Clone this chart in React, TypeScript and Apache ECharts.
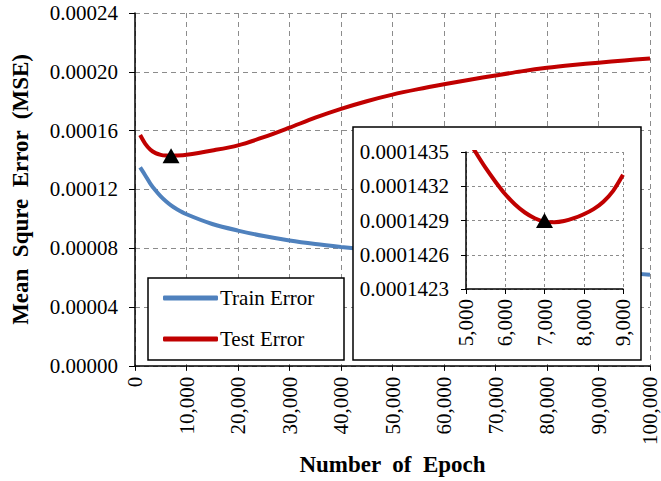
import React, { useEffect, useRef } from "react";
import * as echarts from "echarts";

const epochs = [1000, 2000, 3000, 4000, 5000, 6000, 7000, 8000, 10000, 15000, 20000, 25000, 30000, 35000, 40000, 45000, 50000, 55000, 60000, 65000, 70000, 75000, 80000, 85000, 90000, 95000, 100000];
const trainError = [0.000135, 0.0001295, 0.0001238, 0.0001192, 0.0001152, 0.0001119, 0.0001091, 0.0001068, 0.0001031, 0.0000965, 0.000092, 0.0000883, 0.0000853, 0.0000829, 0.0000809, 0.0000791, 0.0000773, 0.0000755, 0.0000738, 0.0000722, 0.0000706, 0.000069, 0.0000675, 0.0000661, 0.0000647, 0.0000633, 0.000062];
const testError = [0.000157, 0.000151, 0.000147, 0.0001447, 0.0001435, 0.000143, 0.0001429, 0.000143, 0.0001436, 0.0001465, 0.00015, 0.0001555, 0.000162, 0.0001688, 0.0001748, 0.00018, 0.0001845, 0.0001882, 0.0001915, 0.0001946, 0.0001975, 0.0002003, 0.0002027, 0.0002046, 0.0002062, 0.0002077, 0.0002091];
const minEpoch = 7000;
const minTestError = 0.0001429;

const insetEpochs = [5000, 5250, 5500, 5750, 6000, 6250, 6500, 6750, 7000, 7250, 7500, 7750, 8000, 8250, 8500, 8750, 9000];
const insetTestError = [0.00014364, 0.000143495, 0.00014336, 0.00014324, 0.00014313, 0.00014304, 0.00014297, 0.00014292, 0.00014289, 0.000142885, 0.000142895, 0.00014292, 0.000142955, 0.0001430, 0.000143065, 0.00014316, 0.0001433];

const mainYTicks = ["0.00000", "0.00004", "0.00008", "0.00012", "0.00016", "0.00020", "0.00024"];
const insetYTicks = ["0.0001423", "0.0001426", "0.0001429", "0.0001432", "0.0001435"];

// inset y axis is drawn in units of 1e-7 above 0.0001423 so the ticks start at min
const INSET_BASE = 0.0001423;
const INSET_UNIT = 0.0000001;
const toInset = (v: number) => (v - INSET_BASE) / INSET_UNIT;

const FONT = "'Liberation Serif', 'Times New Roman', serif";
const RED = "#C00000";
const BLUE = "#4F81BD";

export default function App() {
  const ref = useRef<HTMLDivElement>(null);
  useEffect(() => {
    if (!ref.current) return;
    const chart = echarts.init(ref.current, null, { renderer: "svg" });
    const dashed = { type: [5, 4], color: "#8c8c8c", width: 1 };
    const fmtInt = (v: number) => Math.round(v).toLocaleString("en-US");
    chart.setOption({
      animation: false,
      backgroundColor: "#fff",
      textStyle: { fontFamily: FONT },
      grid: [
        { left: 135, right: 11, top: 13, bottom: 108 },
        { left: 466, top: 152, width: 157, height: 137 },
      ],
      xAxis: [
        {
          type: "value", gridIndex: 0, min: 0, max: 100000, interval: 10000,
          name: "Number  of  Epoch", nameLocation: "middle", nameGap: 64,
          nameTextStyle: { fontFamily: FONT, fontSize: 23, fontWeight: "bold", color: "#000" },
          axisLine: { lineStyle: { color: "#000", width: 1.5 } },
          axisTick: { show: true, length: 5, lineStyle: { color: "#000" } },
          axisLabel: { rotate: 90, margin: 11, fontSize: 21, fontFamily: FONT, color: "#000", formatter: fmtInt },
          splitLine: { show: true, lineStyle: dashed },
        },
        {
          type: "value", gridIndex: 1, min: 5000, max: 9000, interval: 1000, z: 20,
          axisLine: { lineStyle: { color: "#000", width: 1.5 } },
          axisTick: { show: true, length: 5, lineStyle: { color: "#000" } },
          axisLabel: { rotate: 90, margin: 10, fontSize: 21, fontFamily: FONT, color: "#000", formatter: fmtInt },
          splitLine: { show: true, lineStyle: { type: [3, 3], color: "#8c8c8c", width: 1 } },
        },
      ],
      yAxis: [
        {
          type: "value", gridIndex: 0, min: 0, max: 0.00024, interval: 0.00004,
          name: "Mean  Squre  Error  (MSE)", nameLocation: "middle", nameGap: 103,
          nameTextStyle: { fontFamily: FONT, fontSize: 23, fontWeight: "bold", color: "#000" },
          axisLine: { show: true, lineStyle: { color: "#000", width: 1.5 } },
          axisTick: { show: true, length: 6, lineStyle: { color: "#000" } },
          axisLabel: { margin: 17, fontSize: 21, fontFamily: FONT, color: "#000", formatter: (v: number) => mainYTicks[Math.round(v / 0.00004)] ?? v.toFixed(5) },
          splitLine: { show: true, lineStyle: dashed },
        },
        {
          type: "value", gridIndex: 1, min: 0, max: 12, interval: 3, z: 20,
          axisLine: { show: true, lineStyle: { color: "#000", width: 1.5 } },
          axisTick: { show: true, length: 5, lineStyle: { color: "#000" } },
          axisLabel: { margin: 17, fontSize: 21, fontFamily: FONT, color: "#000", formatter: (v: number) => insetYTicks[Math.round(v / 3)] ?? "" },
          splitLine: { show: true, lineStyle: { type: [3, 3], color: "#8c8c8c", width: 1 } },
        },
      ],
      legend: {
        data: ["Train Error", "Test Error"],
        orient: "vertical", left: 158, top: 282, padding: 5,
        itemWidth: 55, itemHeight: 5, itemGap: 19, icon: "roundRect", z: 20,
        textStyle: { fontFamily: FONT, fontSize: 21, color: "#000", lineHeight: 22, padding: [0, 0, 0, -3] },
      },
      graphic: [
        { type: "rect", z: 10, shape: { x: 148, y: 278, width: 196, height: 82 }, style: { fill: "#fff", stroke: "#000", lineWidth: 1.5 } },
        { type: "rect", z: 10, shape: { x: 353, y: 127, width: 288, height: 233 }, style: { fill: "#fff", stroke: "#000", lineWidth: 1.5 } },
      ],
      series: [
        {
          name: "Train Error", type: "line", xAxisIndex: 0, yAxisIndex: 0, smooth: 0.3, showSymbol: false,
          color: BLUE, lineStyle: { width: 4, color: BLUE },
          data: epochs.map((e, i) => [e, trainError[i]]),
        },
        {
          name: "Test Error", type: "line", xAxisIndex: 0, yAxisIndex: 0, smooth: 0.3, showSymbol: false,
          color: RED, lineStyle: { width: 4, color: RED },
          data: epochs.map((e, i) => [e, testError[i]]),
        },
        {
          name: "Minimum", type: "scatter", xAxisIndex: 0, yAxisIndex: 0, symbol: "triangle", symbolSize: [17, 15], z: 5,
          itemStyle: { color: "#000", opacity: 1 },
          data: [[minEpoch, minTestError]],
        },
        {
          name: "Test Error (zoom)", type: "line", xAxisIndex: 1, yAxisIndex: 1, smooth: 0.3, showSymbol: false, z: 21,
          color: RED, lineStyle: { width: 4, color: RED },
          data: insetEpochs.map((e, i) => [e, toInset(insetTestError[i])]),
        },
        {
          name: "Minimum (zoom)", type: "scatter", xAxisIndex: 1, yAxisIndex: 1, symbol: "triangle", symbolSize: [17, 15], z: 22,
          itemStyle: { color: "#000", opacity: 1 },
          data: [[minEpoch, toInset(minTestError)]],
        },
      ],
    });
    return () => chart.dispose();
  }, []);
  return <div ref={ref} style={{ position: "fixed", left: 0, top: 0, width: 661, height: 481 }} />;
}
